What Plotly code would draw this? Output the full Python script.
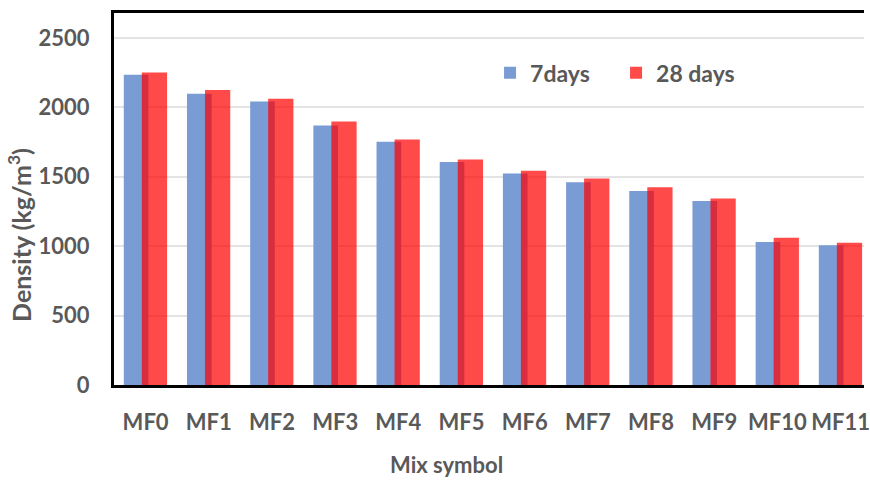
import plotly.graph_objects as go

# Mix designations and measured densities (kg/m3)
mixes = ["MF0", "MF1", "MF2", "MF3", "MF4", "MF5", "MF6", "MF7", "MF8", "MF9", "MF10", "MF11"]
density_7d = [2235, 2098, 2043, 1870, 1752, 1606, 1524, 1461, 1397, 1325, 1031, 1007]
density_28d = [2252, 2125, 2062, 1899, 1769, 1625, 1543, 1488, 1424, 1344, 1060, 1024]
y_ticks = [0, 500, 1000, 1500, 2000, 2500]

FONT = "Lato, 'Open Sans', sans-serif"
GREY = "#595959"

fig = go.Figure()
fig.add_trace(go.Bar(
    x=mixes, y=density_7d, name="7days",
    marker=dict(color="#7a9cd4", line=dict(width=0)),
    width=0.39, offset=-0.345,
))
fig.add_trace(go.Bar(
    x=mixes, y=density_28d, name="28 days",
    marker=dict(color="rgba(255,0,0,0.71)", line=dict(width=0)),
    width=0.40, offset=-0.06,
))

fig.update_layout(
    width=870, height=480,
    margin=dict(l=114, r=0, t=13, b=95),
    paper_bgcolor="white", plot_bgcolor="white",
    barmode="overlay",
    font=dict(family=FONT, color=GREY, size=20),
    showlegend=True,
    legend=dict(
        orientation="h", x=0.5014, y=0.839, xanchor="left", yanchor="middle",
        font=dict(family=FONT, size=23, color=GREY, weight="bold"),
        itemwidth=30, entrywidth=81, traceorder="normal", bgcolor="rgba(0,0,0,0)",
        itemclick=False,
    ),
    xaxis=dict(
        range=[-0.5, 11.37],
        showline=True, linecolor="black", linewidth=3, mirror=True,
        showgrid=False, ticks="", ticklabelstandoff=16,
        tickfont=dict(family=FONT, size=22, color=GREY, weight="bold"),
    ),
    yaxis=dict(
        range=[0, 2680],
        tickvals=y_ticks,
        showline=True, linecolor="black", linewidth=3,
        showgrid=True, gridcolor="#e4e4e4", gridwidth=2,
        zeroline=False, ticks="", ticklabelstandoff=17,
        tickfont=dict(family=FONT, size=22, color=GREY, weight="bold"),
    ),
    annotations=[
        dict(text="Density (kg/m<sup>3</sup>)", textangle=-90,
             xref="paper", yref="paper", x=-0.126, y=0.402,
             xanchor="center", yanchor="middle", showarrow=False,
             font=dict(family=FONT, size=25, color=GREY, weight="bold")),
        dict(text="Mix symbol",
             xref="paper", yref="paper", x=0.443, y=-0.215,
             xanchor="center", yanchor="middle", showarrow=False,
             font=dict(family=FONT, size=22, color=GREY, weight="bold")),
    ],
)

fig.write_html("out.html")
